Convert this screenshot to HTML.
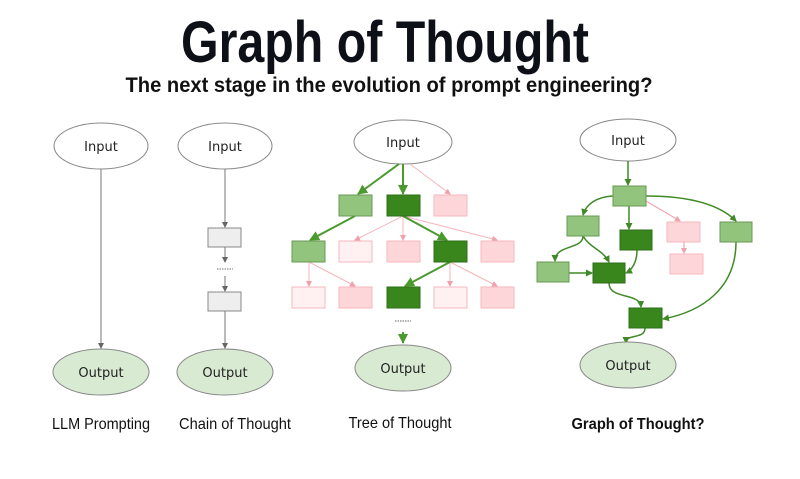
<!DOCTYPE html>
<html><head><meta charset="utf-8"><style>
html,body{margin:0;padding:0;background:#fff;width:800px;height:479px;overflow:hidden}
svg{display:block}
.n{font-family:"DejaVu Sans","Liberation Sans",sans-serif;font-size:13px;fill:#222;text-anchor:middle}
.l{font-family:"Liberation Sans Narrow","Liberation Sans",sans-serif;font-size:16px;fill:#111;text-anchor:middle}
</style></head><body>
<svg width="800" height="479" viewBox="0 0 800 479" xmlns="http://www.w3.org/2000/svg">
<defs>
<marker id="ag" markerWidth="6" markerHeight="6" refX="5" refY="3" orient="auto" markerUnits="userSpaceOnUse"><path d="M0,0L6,3L0,6z" fill="#666"/></marker>
<marker id="aG" markerWidth="10" markerHeight="10" refX="9" refY="5" orient="auto" markerUnits="userSpaceOnUse"><path d="M0,0L10,5L0,10z" fill="#4a9a2e"/></marker>
<marker id="as" markerWidth="7" markerHeight="7" refX="6" refY="3.5" orient="auto" markerUnits="userSpaceOnUse"><path d="M0,0L7,3.5L0,7z" fill="#3f8a26"/></marker>
<marker id="ap" markerWidth="6" markerHeight="6" refX="5" refY="3" orient="auto" markerUnits="userSpaceOnUse"><path d="M0,0L6,3L0,6z" fill="#f0a0a8"/></marker>
</defs>
<text x="385" y="62" font-family="Liberation Sans Narrow,Liberation Sans,sans-serif" font-weight="bold" font-size="58" text-anchor="middle" fill="#0d1117" textLength="408" lengthAdjust="spacingAndGlyphs">Graph of Thought</text>
<text x="389" y="92" font-family="Liberation Sans Narrow,Liberation Sans,sans-serif" font-weight="bold" font-size="21" text-anchor="middle" fill="#111" textLength="527" lengthAdjust="spacingAndGlyphs">The next stage in the evolution of prompt engineering?</text>

<!-- LLM -->
<ellipse cx="101" cy="146" rx="47" ry="23" fill="#fff" stroke="#888"/>
<text class="n" x="101" y="151">Input</text>
<line x1="101" y1="169" x2="101" y2="348" stroke="#777" marker-end="url(#ag)"/>
<ellipse cx="101" cy="372" rx="48" ry="23" fill="#d9ead3" stroke="#888"/>
<text class="n" x="101" y="377">Output</text>
<text class="l" x="101" y="429" textLength="98" lengthAdjust="spacingAndGlyphs">LLM Prompting</text>

<!-- CoT -->
<ellipse cx="225" cy="146" rx="47" ry="23" fill="#fff" stroke="#888"/>
<text class="n" x="225" y="151">Input</text>
<line x1="225" y1="169" x2="225" y2="227" stroke="#777" marker-end="url(#ag)"/>
<rect x="208" y="228" width="33" height="19" fill="#eee" stroke="#888"/>
<line x1="225" y1="247" x2="225" y2="262" stroke="#777" marker-end="url(#ag)"/>
<line x1="217" y1="269" x2="233" y2="269" stroke="#777" stroke-dasharray="1.5,1"/>
<line x1="225" y1="276" x2="225" y2="291" stroke="#777" marker-end="url(#ag)"/>
<rect x="208" y="292" width="33" height="19" fill="#eee" stroke="#888"/>
<line x1="225" y1="311" x2="225" y2="348" stroke="#777" marker-end="url(#ag)"/>
<ellipse cx="225" cy="372" rx="48" ry="23" fill="#d9ead3" stroke="#888"/>
<text class="n" x="225" y="377">Output</text>
<text class="l" x="235" y="429" textLength="112" lengthAdjust="spacingAndGlyphs">Chain of Thought</text>

<!-- ToT -->
<ellipse cx="403" cy="142" rx="49" ry="22" fill="#fff" stroke="#888"/>
<text class="n" x="403" y="147">Input</text>
<g stroke="#f5b5bb" stroke-width="1">
<line x1="410" y1="164" x2="450" y2="194" marker-end="url(#ap)"/>
<line x1="403" y1="216" x2="355" y2="240" marker-end="url(#ap)"/>
<line x1="403" y1="216" x2="403" y2="240" marker-end="url(#ap)"/>
<line x1="403" y1="216" x2="497" y2="240" marker-end="url(#ap)"/>
<line x1="309" y1="262" x2="309" y2="286" marker-end="url(#ap)"/>
<line x1="309" y1="262" x2="355" y2="286" marker-end="url(#ap)"/>
<line x1="450" y1="262" x2="450" y2="286" marker-end="url(#ap)"/>
<line x1="450" y1="262" x2="497" y2="286" marker-end="url(#ap)"/>
</g>
<g stroke="#4a9a2e" stroke-width="2">
<line x1="399" y1="164" x2="358" y2="194" marker-end="url(#aG)"/>
<line x1="403" y1="164" x2="403" y2="194" marker-end="url(#aG)"/>
<line x1="355" y1="216" x2="310" y2="240" marker-end="url(#aG)"/>
<line x1="403" y1="216" x2="447" y2="240" marker-end="url(#aG)"/>
<line x1="450" y1="262" x2="405" y2="286" marker-end="url(#aG)"/>
<line x1="403" y1="332" x2="403" y2="343" marker-end="url(#aG)"/>
</g>
<g stroke-width="1">
<rect x="339" y="195" width="33" height="21" fill="#93c47d" stroke="#6a9a55"/>
<rect x="387" y="195" width="33" height="21" fill="#38861c" stroke="#2d6e17"/>
<rect x="434" y="195" width="33" height="21" fill="#fdd6da" stroke="#f6b8be"/>
<rect x="292" y="241" width="33" height="21" fill="#93c47d" stroke="#6a9a55"/>
<rect x="339" y="241" width="33" height="21" fill="#fff0f1" stroke="#f6b8be"/>
<rect x="387" y="241" width="33" height="21" fill="#fdd6da" stroke="#f6b8be"/>
<rect x="434" y="241" width="33" height="21" fill="#38861c" stroke="#2d6e17"/>
<rect x="481" y="241" width="33" height="21" fill="#fdd6da" stroke="#f6b8be"/>
<rect x="292" y="287" width="33" height="21" fill="#fff0f1" stroke="#f6b8be"/>
<rect x="339" y="287" width="33" height="21" fill="#fdd6da" stroke="#f6b8be"/>
<rect x="387" y="287" width="33" height="21" fill="#38861c" stroke="#2d6e17"/>
<rect x="434" y="287" width="33" height="21" fill="#fff0f1" stroke="#f6b8be"/>
<rect x="481" y="287" width="33" height="21" fill="#fdd6da" stroke="#f6b8be"/>
</g>
<line x1="395" y1="321" x2="411" y2="321" stroke="#666" stroke-dasharray="1.5,1"/>
<ellipse cx="403" cy="368" rx="48" ry="23" fill="#d9ead3" stroke="#888"/>
<text class="n" x="403" y="373">Output</text>
<text class="l" x="400" y="428" textLength="103" lengthAdjust="spacingAndGlyphs">Tree of Thought</text>

<!-- GoT -->
<ellipse cx="628" cy="140" rx="48" ry="21" fill="#fff" stroke="#888"/>
<text class="n" x="628" y="145">Input</text>
<g fill="none" stroke="#3f8a26" stroke-width="1.5">
<line x1="628" y1="161" x2="628" y2="185" marker-end="url(#as)"/>
<path d="M613,196 C595,197 586,205 583,215" marker-end="url(#as)"/>
<line x1="629" y1="206" x2="629" y2="229" marker-end="url(#as)"/>
<path d="M646,196 C690,196 720,205 736,221" marker-end="url(#as)"/>
<path d="M583,236 C583,250 555,244 555,261" marker-end="url(#as)"/>
<path d="M583,236 C590,248 603,250 609,262" marker-end="url(#as)"/>
<path d="M637,250 C637,262 632,270 626,273" marker-end="url(#as)"/>
<line x1="569" y1="273" x2="592" y2="273" marker-end="url(#as)"/>
<path d="M609,283 C609,300 640,292 641,307" marker-end="url(#as)"/>
<path d="M736,242 C736,290 700,312 663,319" marker-end="url(#as)"/>
<path d="M645,328 C645,340 626,333 626,343" marker-end="url(#as)"/>
</g>
<line x1="646" y1="201" x2="680" y2="221" stroke="#f5a5ad" stroke-width="1.2" marker-end="url(#ap)"/>
<line x1="684" y1="242" x2="684" y2="253" stroke="#f5a5ad" stroke-width="1.2" marker-end="url(#ap)"/>
<rect x="613" y="186" width="33" height="20" fill="#93c47d" stroke="#6a9a55"/>
<rect x="567" y="216" width="32" height="20" fill="#93c47d" stroke="#6a9a55"/>
<rect x="620" y="230" width="32" height="20" fill="#38861c" stroke="#2d6e17"/>
<rect x="667" y="222" width="33" height="20" fill="#fdd6da" stroke="#f6b8be"/>
<rect x="670" y="254" width="33" height="20" fill="#fdd6da" stroke="#f6b8be"/>
<rect x="720" y="222" width="32" height="20" fill="#93c47d" stroke="#6a9a55"/>
<rect x="537" y="262" width="32" height="20" fill="#93c47d" stroke="#6a9a55"/>
<rect x="593" y="263" width="32" height="20" fill="#38861c" stroke="#2d6e17"/>
<rect x="629" y="308" width="33" height="20" fill="#38861c" stroke="#2d6e17"/>
<ellipse cx="628" cy="365" rx="48" ry="23" fill="#d9ead3" stroke="#888"/>
<text class="n" x="628" y="370">Output</text>
<text class="l" x="638" y="429" font-weight="bold" textLength="133" lengthAdjust="spacingAndGlyphs">Graph of Thought?</text>
</svg>
</body></html>
